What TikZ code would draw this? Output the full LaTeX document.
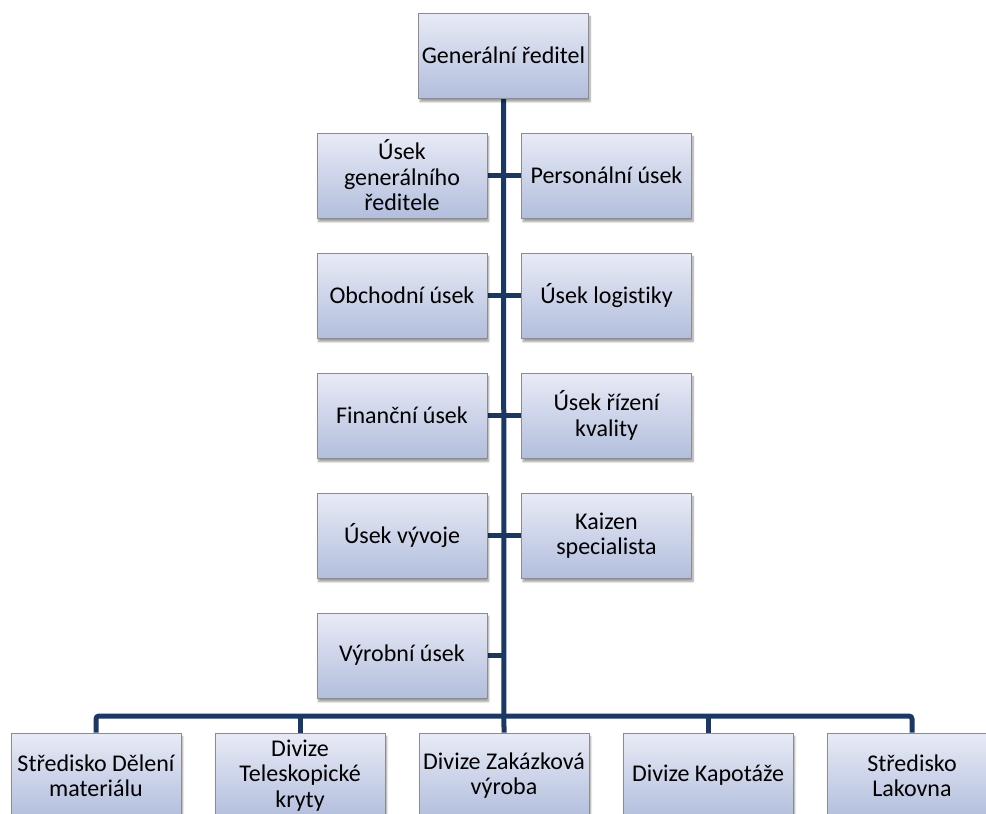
\documentclass[tikz,border=0pt]{standalone}
\usepackage{fontspec}
\setmainfont[Ligatures=NoCommon]{Carlito}
\usetikzlibrary{shadows.blur,backgrounds}
\definecolor{linkblue}{RGB}{26,56,98}
\definecolor{boxtop}{RGB}{232,235,246}
\definecolor{boxbottom}{RGB}{178,190,221}
\definecolor{boxedge}{RGB}{140,140,140}
\tikzset{
  unit/.style={draw=boxedge, line width=0.8pt, top color=boxtop, bottom color=boxbottom,
    minimum width=170pt, minimum height=85pt, align=center,
    inner sep=0pt, font=\fontsize{24}{25.5}\selectfont,
    blur shadow={shadow xshift=1.5pt, shadow yshift=-3.5pt, shadow blur steps=6, shadow opacity=40}},
  link/.style={draw=linkblue, line width=5pt},
}
\begin{document}
\begin{tikzpicture}[x=1pt,y=-1pt]
\useasboundingbox (0,0) rectangle (986,814);
\clip (0,0) rectangle (986,814);

% level of the horizontal bar above the divisions
\coordinate (barL) at (96,716);
\coordinate (barR) at (912,716);

\node[unit] (gr) at (503.5,55.5) {Generální ředitel};

\node[unit] (ugr) at (402,175.5) {Úsek\\generálního\\ředitele};
\node[unit] (pu)  at (606.5,175.5) {Personální úsek};
\node[unit] (ou)  at (402,295.5) {Obchodní úsek};
\node[unit] (ul)  at (606.5,295.5) {Úsek logistiky};
\node[unit] (fu)  at (402,415.5) {Finanční úsek};
\node[unit] (urk) at (606.5,415.5) {Úsek řízení\\kvality};
\node[unit] (uv)  at (402,535.5) {Úsek vývoje};
\node[unit] (ks)  at (606.5,535.5) {Kaizen\\specialista};
\node[unit] (vu)  at (402,655.5) {Výrobní úsek};

\node[unit] (sdm) at (96,775.5) {Středisko Dělení\\materiálu};
\node[unit] (dtk) at (300,775.5) {Divize\\Teleskopické\\kryty};
\node[unit] (dzv) at (504,775.5) {Divize Zakázková\\výroba};
\node[unit] (dk)  at (708,775.5) {Divize Kapotáže};
\node[unit] (sl)  at (912,775.5) {Středisko\\Lakovna};

% trunk and branches, drawn beneath the boxes
\begin{scope}[on background layer]
\draw[link] (gr.south) -- (dzv.north);
\foreach \n in {ugr,ou,fu,uv,vu} \draw[link] (\n.east) -- (\n.east -| gr.south);
\foreach \n in {pu,ul,urk,ks} \draw[link] (\n.west) -- (\n.west -| gr.south);
\draw[link, rounded corners=3pt] (sdm.north) -- (sdm.north |- barL) -- (sl.north |- barR) -- (sl.north);
\draw[link] (dtk.north |- barL) -- (dtk.north);
\draw[link] (dk.north |- barL) -- (dk.north);
\end{scope}
\end{tikzpicture}
\end{document}
